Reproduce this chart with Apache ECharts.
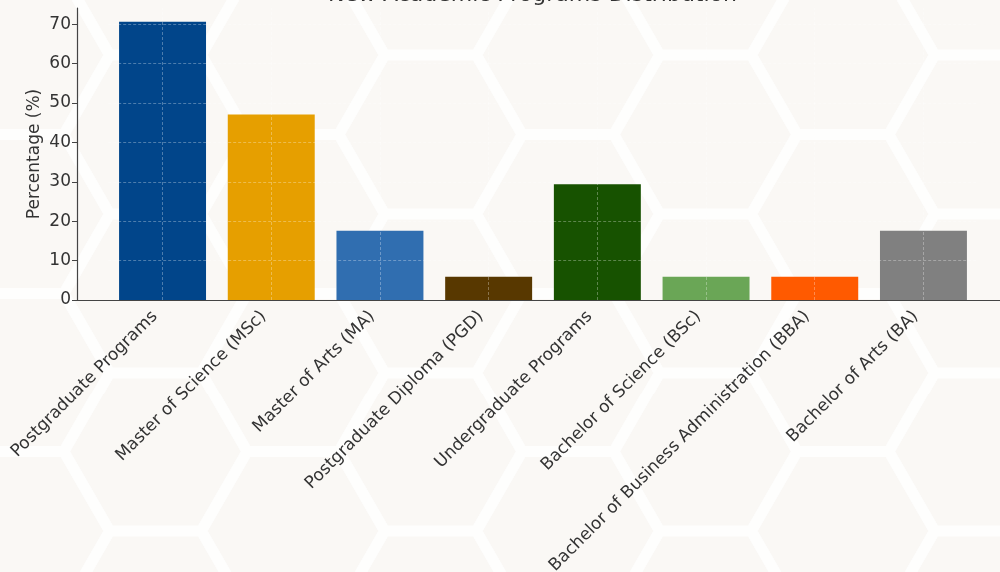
<!DOCTYPE html>
<html>
<head>
<meta charset="utf-8">
<script src="https://cdn.jsdelivr.net/npm/echarts@6/dist/echarts.min.js"></script>
<style>
  html, body { margin: 0; padding: 0; }
  #chart { width: 1000px; height: 572px; }
</style>
</head>
<body>
<div id="chart"></div>
<script>
// data
const categories = [
  'Postgraduate Programs',
  'Master of Science (MSc)',
  'Master of Arts (MA)',
  'Postgraduate Diploma (PGD)',
  'Undergraduate Programs',
  'Bachelor of Science (BSc)',
  'Bachelor of Business Administration (BBA)',
  'Bachelor of Arts (BA)'
]
const percentages = [70.6, 47.1, 17.6, 5.9, 29.4, 5.9, 5.9, 17.6]
const yTicks = [10, 20, 30, 40, 50, 60, 70]

// one colour per bar
const barColors = ['#01458a', '#e69f00', '#306eb0', '#583800', '#175200', '#6aa656', '#ff5a00', '#808080']

// hexagon background (page decoration)
function hexBackground() {
  const s = 91.67, h = s * Math.sqrt(3) / 2
  const w = 3 * s, ht = 2 * h
  const centers = [[1.5 * s, h], [0, 0], [w, 0], [0, ht], [w, ht]]
  const paths = centers.map(([cx, cy]) => {
    const pts = [[cx + s, cy], [cx + s / 2, cy + h], [cx - s / 2, cy + h], [cx - s, cy], [cx - s / 2, cy - h], [cx + s / 2, cy - h]]
    return '<polygon points="' + pts.map(p => p[0].toFixed(2) + ',' + p[1].toFixed(2)).join(' ') + '"/>'
  }).join('')
  const svg = '<svg xmlns="http://www.w3.org/2000/svg" width="' + w.toFixed(2) + '" height="' + ht.toFixed(2) + '">' +
    '<rect width="100%" height="100%" fill="#faf8f5"/>' +
    '<g fill="none" stroke="#fefefd" stroke-width="11">' + paths + '</g></svg>'
  const el = document.getElementById('chart')
  el.style.backgroundImage = 'url("data:image/svg+xml,' + encodeURIComponent(svg) + '")'
  el.style.backgroundSize = w.toFixed(2) + 'px ' + ht.toFixed(2) + 'px'
  el.style.backgroundPosition = '292.5px 55px'
}
hexBackground()

const myChart = echarts.init(document.getElementById('chart'))

const font = 'DejaVu Sans'
const yMax = 74.1

const options = {
  backgroundColor: 'transparent',
  animation: false,
  title: {
    text: 'New Academic Programs Distribution',
    left: 323,
    top: -21,
    textStyle: { fontFamily: font, fontSize: 22, fontWeight: 'normal', color: '#333' }
  },
  grid: [
    // frame: spines
    { left: 77, right: -10, top: 8, bottom: 272, outerBoundsMode: 'none' },
    // bars
    { left: 108.2, right: 22.2, top: 8, bottom: 272, outerBoundsMode: 'none' }
  ],
  xAxis: [
    {
      gridIndex: 0,
      type: 'value',
      min: 0,
      max: 1,
      axisLine: { show: true, lineStyle: { color: '#444', width: 1.2 } },
      axisTick: { show: false },
      axisLabel: { show: false },
      splitLine: { show: false }
    },
    {
      gridIndex: 1,
      type: 'category',
      data: categories,
      axisLine: { show: false },
      axisTick: { show: true, alignWithLabel: true, inside: true, length: 4, lineStyle: { color: '#333' } },
      axisLabel: {
        interval: 0,
        rotate: 45,
        margin: 6,
        padding: [0, 11, 0, 0],
        fontFamily: font,
        fontSize: 17,
        color: '#333'
      },
      splitLine: { show: false }
    }
  ],
  yAxis: [
    {
      gridIndex: 0,
      type: 'value',
      min: 0,
      max: yMax,
      interval: 10,
      name: 'Percentage (%)',
      nameLocation: 'middle',
      nameGap: 34,
      nameMoveOverlap: false,
      nameTextStyle: { fontFamily: font, fontSize: 17, color: '#333' },
      axisLine: { show: true, lineStyle: { color: '#444', width: 1.2 } },
      axisTick: { show: true, length: 5, lineStyle: { color: '#444' } },
      axisLabel: {
        margin: 6,
        fontFamily: font,
        fontSize: 17,
        color: '#333',
        showMaxLabel: false
      },
      splitLine: { show: false }
    },
    {
      gridIndex: 1,
      type: 'value',
      min: 0,
      max: yMax,
      show: false
    }
  ],
  series: [
    {
      type: 'bar',
      xAxisIndex: 1,
      yAxisIndex: 1,
      barWidth: '80%',
      data: percentages.map((v, i) => ({ value: v, itemStyle: { color: barColors[i] } })),
      // dashed grid lines drawn over the bars
      markLine: {
        silent: true,
        symbol: 'none',
        label: { show: false },
        lineStyle: { color: 'rgba(255,255,255,0.3)', type: [3, 2], width: 1 },
        data: categories.map(c => ({ xAxis: c })).concat(yTicks.map(v => ({ yAxis: v })))
      }
    }
  ]
}

myChart.setOption(options)
</script>
</body>
</html>
